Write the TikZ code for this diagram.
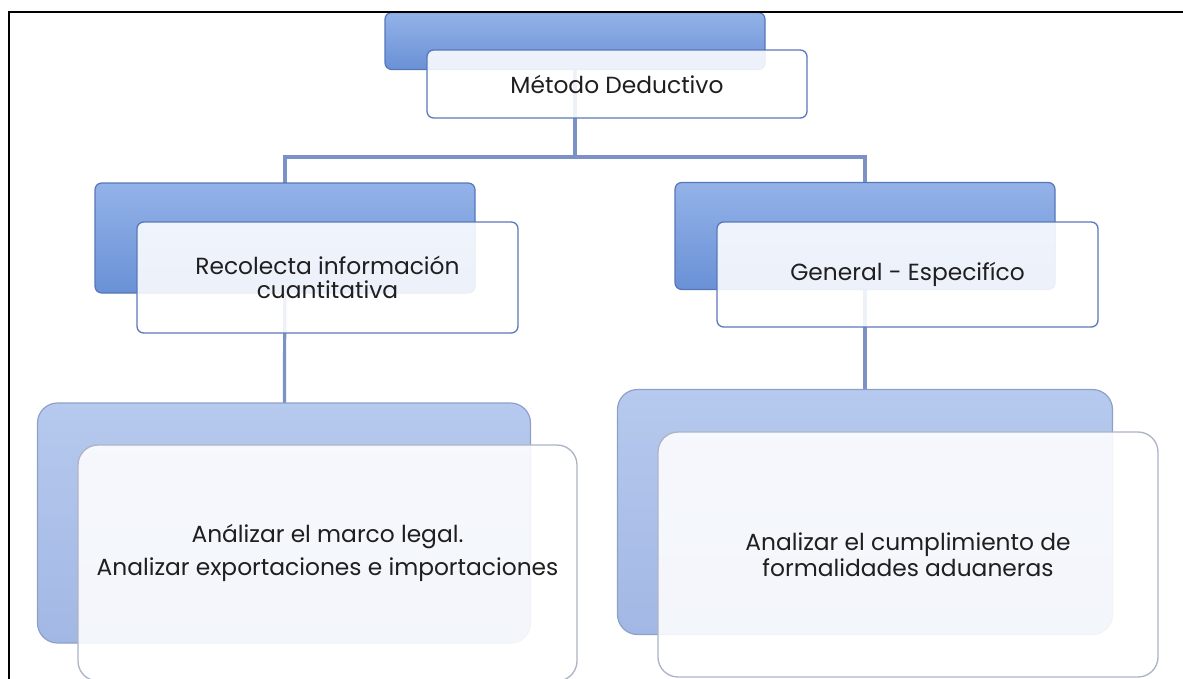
\documentclass[tikz,border=0pt]{standalone}
\usepackage{fontspec}
\setmainfont{Poppins}
\usetikzlibrary{shadings}

\definecolor{deepBack}{HTML}{6A91D6}
\definecolor{deepBackTop}{HTML}{93B2E8}
\definecolor{deepEdge}{HTML}{5676B8}
\definecolor{paleBack}{HTML}{A2B8E4}
\definecolor{paleBackTop}{HTML}{B6C9EE}
\definecolor{paleEdge}{HTML}{8EA0CA}
\definecolor{frontEdge}{HTML}{5A78BA}
\definecolor{frontPale}{HTML}{AEB4C8}
\definecolor{linkBlue}{HTML}{7C91C6}

\newlength\pxu
\setlength\pxu{0.75pt}

\begin{document}
\begin{tikzpicture}[x=0.75pt, y=-0.75pt,
    font=\fontsize{17.5}{24}\selectfont, text=black!88,
    backbox/.style={draw=deepEdge, line width=0.9pt, rounded corners=5pt,
        top color=deepBackTop, bottom color=deepBack, inner sep=0pt},
    palebox/.style={draw=paleEdge, line width=0.9pt, rounded corners=15pt,
        top color=paleBackTop, bottom color=paleBack, inner sep=0pt},
    frontbox/.style={draw=frontEdge, line width=1pt, rounded corners=5pt,
        fill=white, fill opacity=0.88, text opacity=1, align=center, inner sep=0pt},
    frontpale/.style={draw=frontPale, line width=1pt, rounded corners=15pt,
        fill=white, fill opacity=0.88, text opacity=1, align=center, inner sep=0pt},
    link/.style={linkBlue, line width=2.4pt}]
    \useasboundingbox (0,0) rectangle (1183,679);

    % connectors, drawn first so the boxes lie on top
    \coordinate (split) at (575,157);
    \coordinate (topc) at (575,41);
    \coordinate (midlc) at (285,238);
    \coordinate (midrc) at (865,236);
    \coordinate (botlc) at (284,523);
    \coordinate (botrc) at (865,512);
    \draw[link] (topc) -- (split);
    \draw[link] (split) -| (midlc);
    \draw[link] (split) -| (midrc);
    \draw[link] (midlc) -- (botlc);
    \draw[link] (midrc) -- (botrc);

    % top
    \node[backbox, minimum width=380\pxu, minimum height=57\pxu] (topback) at (topc) {};
    \node[frontbox, minimum width=380\pxu, minimum height=68\pxu] (topfront) at (617,84) {Método Deductivo};

    % middle row
    \node[backbox, minimum width=380\pxu, minimum height=110\pxu] (leftback) at (midlc) {};
    \node[frontbox, minimum width=381\pxu, minimum height=111\pxu] (leftfront) at (327.5,277.5)
        {Recolecta información\\[-6pt]cuantitativa};
    \node[backbox, minimum width=380\pxu, minimum height=107\pxu] (rightback) at (midrc) {};
    \node[frontbox, minimum width=381\pxu, minimum height=105\pxu] (rightfront) at (907.5,274.5)
        {\raisebox{-6pt}{General - Especifíco}};

    % bottom row
    \node[palebox, minimum width=493\pxu, minimum height=240\pxu] (leftlowback) at (botlc) {};
    \node[frontpale, minimum width=499\pxu, minimum height=236\pxu] (leftlowfront) at (327.5,563)
        {Análizar el marco legal.\\[1pt]Analizar exportaciones e importaciones\\[-4pt]\mbox{}};
    \node[palebox, minimum width=495\pxu, minimum height=245\pxu] (rightlowback) at (botrc) {};
    \node[frontpale, minimum width=500\pxu, minimum height=245\pxu] (rightlowfront) at (908,554.5)
        {Analizar el cumplimiento de\\[-4.5pt]formalidades aduaneras};

    % page edge
    \draw[black, line width=1.5pt] (9,679) -- (9,12) -- (1183,12);
\end{tikzpicture}
\end{document}
